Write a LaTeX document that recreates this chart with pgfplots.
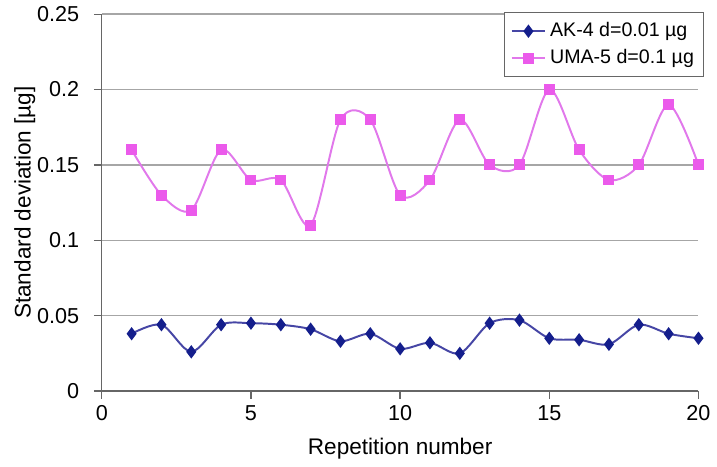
\documentclass[border=0pt]{standalone}
\usepackage{fontspec}
\setmainfont{Liberation Sans}
\usepackage{pgfplots}
\pgfplotsset{compat=1.18}
\definecolor{navyline}{RGB}{70,70,165}
\definecolor{navymark}{RGB}{20,30,140}
\definecolor{pinkline}{RGB}{225,120,235}
\definecolor{pinkmark}{RGB}{235,90,235}
\begin{document}
\begin{tikzpicture}
\begin{axis}[
  scale only axis,
  width=304pt, height=192pt,
  xmin=0, xmax=20, ymin=0, ymax=0.25,
  xtick={0,5,10,15,20},
  ytick={0,0.05,0.1,0.15,0.2,0.25},
  yticklabels={0,0.05,0.1,0.15,0.2,0.25},
  xticklabels={0,5,10,15,20},
  axis x line*=bottom, axis y line*=left,
  axis line style={gray!80!black, line width=0.7pt, -},
  tick style={gray!80!black, line width=0.7pt},
  tick align=outside,
  major tick length=4pt,
  ymajorgrids,
  grid style={gray!70, line width=0.8pt},
  tick label style={font=\fontsize{11}{13}\selectfont},
  yticklabel style={xshift=-4pt},
  label style={font=\fontsize{11.5}{13}\selectfont},
  xlabel={Repetition number},
  ylabel={Standard deviation [µg]},
  xlabel style={yshift=-2pt},
  ylabel style={yshift=-6pt},
  legend style={at={(1,1)}, xshift=3pt, yshift=1pt, anchor=north east, draw=gray!80!black, line width=0.6pt,
    font=\fontsize{10}{12}\selectfont, row sep=1pt, inner sep=3pt, fill=white},
  legend cell align=left,
  legend image post style={sharp plot},
]
\addplot[smooth, tension=0.5, navyline, line width=1pt, mark=diamond*, mark size=2.6pt,
  mark options={fill=navymark, draw=navymark}]
coordinates {
(1,0.038)(2,0.044)(3,0.026)(4,0.044)(5,0.045)(6,0.044)(7,0.041)(8,0.033)(9,0.038)(10,0.028)
(11,0.032)(12,0.025)(13,0.045)(14,0.047)(15,0.035)(16,0.034)(17,0.031)(18,0.044)(19,0.038)(20,0.035)
};
\addlegendentry{AK-4 d=0.01 µg}
\addplot[smooth, tension=0.5, pinkline, line width=1pt, mark=square*, mark size=2.3pt,
  mark options={fill=pinkmark, draw=pinkmark}]
coordinates {
(1,0.16)(2,0.13)(3,0.12)(4,0.16)(5,0.14)(6,0.14)(7,0.11)(8,0.18)(9,0.18)(10,0.13)
(11,0.14)(12,0.18)(13,0.15)(14,0.15)(15,0.20)(16,0.16)(17,0.14)(18,0.15)(19,0.19)(20,0.15)
};
\addlegendentry{UMA-5 d=0.1 µg}
\end{axis}
\path ([xshift=-4pt]current bounding box.west);
\end{tikzpicture}
\end{document}
